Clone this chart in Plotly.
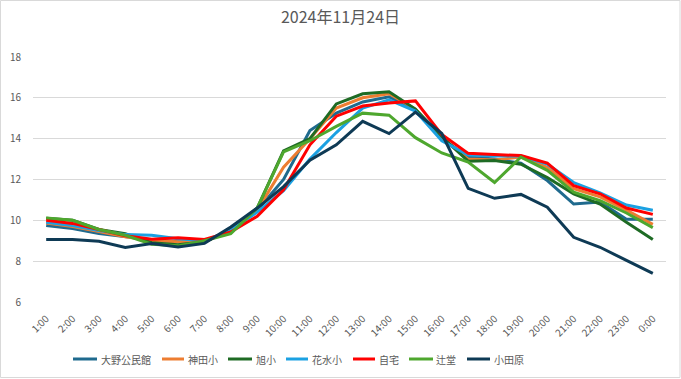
import plotly.graph_objects as go

hours = ["1:00","2:00","3:00","4:00","5:00","6:00","7:00","8:00","9:00","10:00","11:00","12:00",
         "13:00","14:00","15:00","16:00","17:00","18:00","19:00","20:00","21:00","22:00","23:00","0:00"]

ono = [9.75, 9.6, 9.35, 9.2, 9.05, 8.95, 8.95, 9.55, 10.5, 12.0, 14.4, 15.25,
       15.8, 16.05, 15.4, 14.0, 13.1, 13.0, 12.8, 11.95, 10.8, 10.9, 10.05, 10.05]
kanda = [9.87, 9.7, 9.45, 9.2, 9.0, 8.95, 8.95, 9.5, 10.5, 12.6, 14.0, 15.5,
         16.0, 16.2, 15.45, 14.0, 13.0, 12.95, 13.1, 12.6, 11.55, 11.15, 10.5, 9.8]
asahi = [10.1, 10.0, 9.55, 9.35, 8.9, 8.8, 8.95, 9.5, 10.6, 13.4, 14.0, 15.7,
         16.2, 16.3, 15.45, 14.1, 12.9, 12.93, 12.75, 12.1, 11.3, 10.8, 9.9, 9.06]
hanamizu = [9.9, 9.75, 9.5, 9.3, 9.27, 9.1, 9.0, 9.5, 10.4, 11.45, 13.0, 14.3,
            15.5, 15.9, 15.35, 13.9, 13.2, 13.15, 13.15, 12.75, 11.85, 11.35, 10.75, 10.49]
jitaku = [10.0, 9.85, 9.55, 9.25, 9.07, 9.15, 9.06, 9.43, 10.2, 11.5, 13.7, 15.1,
          15.6, 15.75, 15.85, 14.2, 13.28, 13.22, 13.17, 12.8, 11.7, 11.3, 10.6, 10.29]
tsujido = [10.12, 10.0, 9.55, 9.27, 8.83, 8.75, 9.0, 9.35, 10.6, 13.35, 13.9, 14.6,
           15.25, 15.15, 14.05, 13.3, 12.85, 11.85, 13.1, 12.45, 11.38, 10.97, 10.36, 9.64]
odawara = [9.06, 9.06, 8.97, 8.67, 8.87, 8.7, 8.87, 9.67, 10.6, 11.65, 12.95, 13.7,
           14.85, 14.25, 15.3, 14.25, 11.57, 11.08, 11.27, 10.64, 9.17, 8.68, 8.04, 7.4]

names = ["大野公民館", "神田小", "旭小", "花水小", "自宅", "辻堂", "小田原"]
series = [ono, kanda, asahi, hanamizu, jitaku, tsujido, odawara]
colors = ["#1F6A8E", "#ED7D31", "#1E6B24", "#1BA1E2", "#FF0000", "#4EA72E", "#0E3A55"]

# legend layout (pixel positions of the sample lines and labels)
leg_line_x0 = [73, 162, 228, 286, 353, 409, 467]
leg_line_x1 = [97, 184, 252, 308, 375, 433, 490]
leg_text_x = [99, 186, 254, 310, 377, 434, 492]
LEG_Y = 359

FONT = "Noto Sans CJK JP"
PL, PR, PT, PB = 33, 666, 57, 302
W, H = PR - PL, PB - PT


def px(x):
    return (x - PL) / W


def py(y):
    return (PB - y) / H


fig = go.Figure()
for n, s, c in zip(names, series, colors):
    fig.add_trace(go.Scatter(x=hours, y=s, name=n, mode="lines",
                             line=dict(color=c, width=3), showlegend=False))

shapes = [dict(type="rect", xref="paper", yref="paper",
               x0=px(0.5), x1=px(680), y0=py(377.5), y1=py(0.5),
               line=dict(color="#D9D9D9", width=1), fillcolor="rgba(0,0,0,0)", layer="below")]
annotations = []
for n, c, a, b, t in zip(names, colors, leg_line_x0, leg_line_x1, leg_text_x):
    shapes.append(dict(type="line", xref="paper", yref="paper", x0=px(a), x1=px(b),
                       y0=py(LEG_Y), y1=py(LEG_Y), line=dict(color=c, width=3)))
    annotations.append(dict(text=n, xref="paper", yref="paper", x=px(t), y=py(LEG_Y),
                            xanchor="left", yanchor="middle", showarrow=False,
                            font=dict(family=FONT, size=10, color="#595959")))

fig.update_layout(
    width=681, height=379,
    margin=dict(l=PL, r=681 - PR, t=PT, b=379 - PB, autoexpand=False),
    paper_bgcolor="white", plot_bgcolor="white",
    font=dict(family=FONT, color="#595959", size=10),
    title=dict(text="2024年11月24日", x=0.5, xanchor="center", y=0.955, yanchor="middle",
               font=dict(family=FONT, size=16, color="#595959")),
    xaxis=dict(type="category", range=[-0.5, 23.5], tickangle=-45, showgrid=False,
               zeroline=False, showline=False, ticks="outside", ticklen=6,
               tickcolor="rgba(0,0,0,0)", automargin=False,
               tickfont=dict(size=10, color="#595959")),
    yaxis=dict(range=[6, 18], dtick=2, showgrid=True, gridcolor="#D9D9D9", gridwidth=1,
               zeroline=False, showline=False, ticks="outside", ticklen=9,
               tickcolor="rgba(0,0,0,0)", automargin=False,
               tickfont=dict(size=10, color="#595959")),
    showlegend=False,
    shapes=shapes,
    annotations=annotations,
)

fig.write_html("out.html", config={"displayModeBar": False},
               post_script="document.body.style.margin='0';document.body.style.overflow='hidden';")
